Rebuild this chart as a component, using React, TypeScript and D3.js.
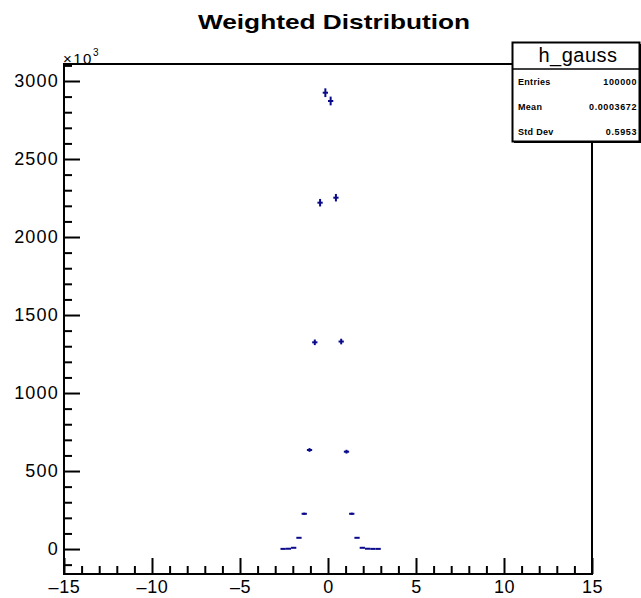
import React, { useEffect, useRef } from "react";
import * as d3 from "d3";

// bin centres of the drawn (non-empty) bins, bin width 0.3
const binCenters = [-2.55, -2.25, -1.95, -1.65, -1.35, -1.05, -0.75, -0.45, -0.15, 0.15, 0.45, 0.75, 1.05, 1.35, 1.65, 1.95, 2.25, 2.55, 2.85];
// weighted contents in units of 10^3
const weightedCounts = [1, 2, 8, 72, 226, 635, 1325, 2220, 2925, 2872, 2252, 1330, 624, 226, 72, 8, 2, 1, 1];
const binErrors = [1, 1, 2, 4, 7, 12, 18, 24, 28, 28, 24, 18, 12, 7, 4, 2, 1, 1, 1];
const binWidth = 0.3;

const xMajorTicks = [-15, -10, -5, 0, 5, 10, 15];
const yMajorTicks = [0, 500, 1000, 1500, 2000, 2500, 3000];

const statsTitle = "h_gauss";
const statsLabels = ["Entries", "Mean", "Std Dev"];
const statsValues = ["100000", "0.0003672", "0.5953"];

const chartTitle = "Weighted Distribution";

const App = () => {
  const svgRef = useRef<SVGSVGElement>(null);

  useEffect(() => {
    const width = 641;
    const height = 598;
    const frame = { left: 64, right: 592, top: 64, bottom: 574 };
    const font = "'Liberation Sans', Arial, Helvetica, sans-serif";
    const dataColor = "#0a0a8c";

    const x = d3.scaleLinear().domain([-15, 15]).range([frame.left, frame.right]);
    const y = d3.scaleLinear().domain([-160, 3109]).range([frame.bottom, frame.top]);

    const svg = d3.select(svgRef.current)
      .attr("width", width)
      .attr("height", height);

    svg.selectAll("*").remove();

    svg.append("rect")
      .attr("width", width)
      .attr("height", height)
      .attr("fill", "white");

    const fmt = (d: d3.NumberValue) => {
      const v = +d;
      return v < 0 ? "\u2013" + Math.abs(v) : String(v);
    };

    // x axis: minor then major ticks, pointing inward
    const xMinor = d3.range(-15, 15.5, 1).filter(v => v % 5 !== 0);
    svg.append("g")
      .attr("transform", `translate(0,${frame.bottom})`)
      .call(d3.axisBottom(x).tickValues(xMinor).tickSize(-8).tickFormat(() => ""))
      .call(g => g.select(".domain").remove());

    const xAxis = svg.append("g")
      .attr("transform", `translate(0,${frame.bottom})`)
      .call(d3.axisBottom(x).tickValues(xMajorTicks).tickSize(-16).tickPadding(6).tickFormat(fmt))
      .call(g => g.select(".domain").remove());
    xAxis.selectAll("text")
      .attr("font-family", font)
      .attr("font-size", 18)
      .attr("letter-spacing", 0.6)
      .attr("fill", "black");

    // y axis
    const yMinor = d3.range(-100, 3101, 100).filter(v => v % 500 !== 0);
    svg.append("g")
      .attr("transform", `translate(${frame.left},0)`)
      .call(d3.axisLeft(y).tickValues(yMinor).tickSize(-8).tickFormat(() => ""))
      .call(g => g.select(".domain").remove());

    const yAxis = svg.append("g")
      .attr("transform", `translate(${frame.left},0)`)
      .call(d3.axisLeft(y).tickValues(yMajorTicks).tickSize(-16).tickPadding(5).tickFormat(fmt))
      .call(g => g.select(".domain").remove());
    yAxis.selectAll("text")
      .attr("font-family", font)
      .attr("font-size", 18)
      .attr("letter-spacing", 1.2)
      .attr("fill", "black");

    svg.selectAll(".tick line")
      .attr("stroke", "black")
      .attr("stroke-width", 2);

    // frame
    svg.append("rect")
      .attr("x", frame.left)
      .attr("y", frame.top)
      .attr("width", frame.right - frame.left)
      .attr("height", frame.bottom - frame.top)
      .attr("fill", "none")
      .attr("stroke", "black")
      .attr("stroke-width", 2);

    // x10^3 multiplier
    const mult = svg.append("text")
      .attr("x", frame.left - 1)
      .attr("y", frame.top)
      .attr("font-family", font)
      .attr("font-size", 15)
      .attr("letter-spacing", 1.5)
      .attr("fill", "black");
    mult.append("tspan").text("\u00d710");
    mult.append("tspan").attr("dy", -8).attr("font-size", 10).text("3");

    // data: horizontal bin bars + vertical error bars
    const bins = binCenters.map((c, i) => ({ c, v: weightedCounts[i], e: binErrors[i] }));
    const g = svg.append("g").attr("stroke", dataColor).attr("stroke-width", 2);
    g.selectAll("line.h")
      .data(bins)
      .join("line")
      .attr("class", "h")
      .attr("x1", d => x(d.c - binWidth / 2))
      .attr("x2", d => x(d.c + binWidth / 2))
      .attr("y1", d => y(d.v))
      .attr("y2", d => y(d.v));
    g.selectAll("line.v")
      .data(bins.filter(d => y(d.v - d.e) - y(d.v + d.e) > 1.5))
      .join("line")
      .attr("class", "v")
      .attr("x1", d => x(d.c))
      .attr("x2", d => x(d.c))
      .attr("y1", d => y(d.v - d.e))
      .attr("y2", d => y(d.v + d.e));

    // title
    svg.append("text")
      .attr("x", 0)
      .attr("y", 0)
      .attr("transform", `translate(334,29) scale(1.25,1)`)
      .attr("text-anchor", "middle")
      .attr("font-family", font)
      .attr("font-weight", "bold")
      .attr("font-size", 21)
      .attr("fill", "black")
      .text(chartTitle);

    // stats box
    const box = { x: 512.5, y: 42.5, w: 127, h: 99 };
    svg.append("rect")
      .attr("x", box.x + 1.5)
      .attr("y", box.y + 1.5)
      .attr("width", box.w)
      .attr("height", box.h)
      .attr("fill", "black");
    svg.append("rect")
      .attr("x", box.x)
      .attr("y", box.y)
      .attr("width", box.w)
      .attr("height", box.h)
      .attr("fill", "white")
      .attr("stroke", "black")
      .attr("stroke-width", 2);
    svg.append("line")
      .attr("x1", box.x)
      .attr("x2", box.x + box.w)
      .attr("y1", 69)
      .attr("y2", 69)
      .attr("stroke", "black")
      .attr("stroke-width", 1.5);
    svg.append("text")
      .attr("x", 578)
      .attr("y", 62)
      .attr("text-anchor", "middle")
      .attr("font-family", font)
      .attr("font-size", 20)
      .attr("letter-spacing", 0.5)
      .attr("fill", "black")
      .text(statsTitle);

    const rowY = d3.scalePoint().domain(statsLabels).range([81, 131]);
    statsLabels.forEach((lab, i) => {
      svg.append("text")
        .attr("x", 518)
        .attr("y", rowY(lab)! + 3.5)
        .attr("font-family", font)
        .attr("font-weight", "bold")
        .attr("font-size", 9)
        .attr("letter-spacing", 0.3)
        .attr("fill", "black")
        .text(lab);
      svg.append("text")
        .attr("x", 637)
        .attr("y", rowY(lab)! + 3.5)
        .attr("text-anchor", "end")
        .attr("font-family", font)
        .attr("font-weight", "bold")
        .attr("font-size", 9)
        .attr("letter-spacing", 0.6)
        .attr("fill", "black")
        .text(statsValues[i]);
    });
  }, []);

  return <svg ref={svgRef} style={{ position: "absolute", left: 0, top: 0 }}></svg>;
};

export default App;
